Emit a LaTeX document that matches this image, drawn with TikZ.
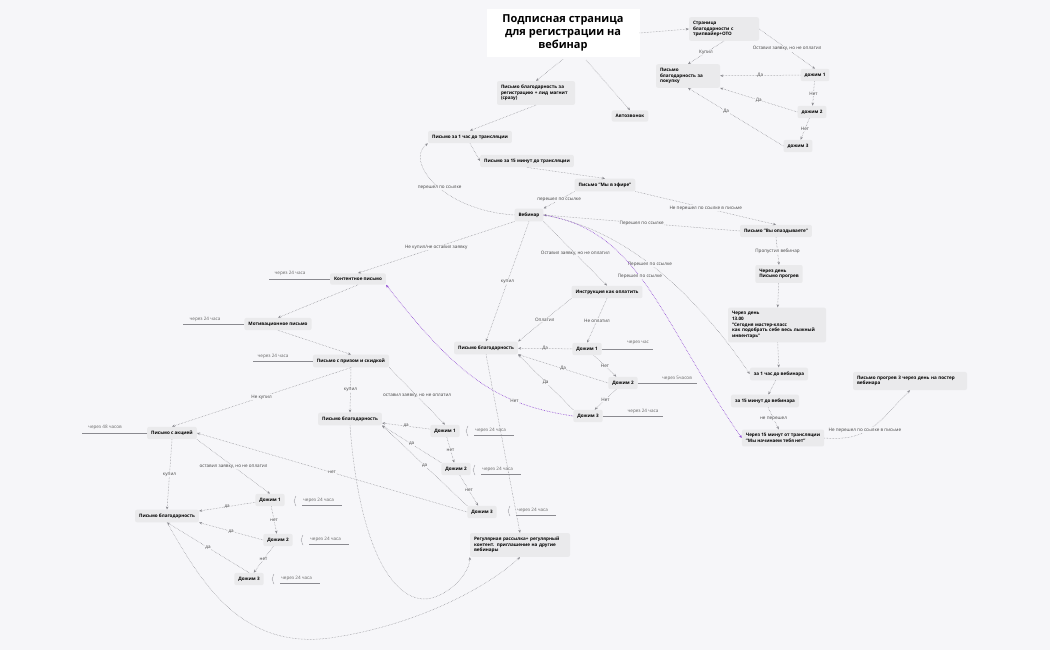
\documentclass[tikz,border=0pt]{standalone}
\usepackage{fontspec}
\setmainfont{Open Sans}
\usetikzlibrary{arrows.meta,decorations.pathreplacing}
\definecolor{bg}{HTML}{F6F6F9}
\definecolor{nf}{HTML}{EAEAEC}
\definecolor{ln}{HTML}{8A8A90}
\definecolor{pu}{HTML}{8A3FD1}
\begin{document}
\begin{tikzpicture}[x=1pt,y=-1pt,
 n/.style={fill=nf,rounded corners=2pt,font=\fontsize{4.6}{5.6}\selectfont\bfseries,inner xsep=4pt,inner ysep=4pt,align=left},
 e/.style={draw=ln,densely dotted,line width=0.5pt,-{Stealth[length=3pt,width=2.5pt]}},
 p/.style={draw=pu,densely dotted,line width=0.6pt,-{Stealth[length=3pt,width=2.5pt]}},
 l/.style={font=\fontsize{4.6}{5.6}\selectfont,fill=bg,inner sep=0.5pt,text=black!75},
 t/.style={font=\fontsize{4.6}{5.6}\selectfont,text=black!60,inner sep=1pt}]
\fill[bg] (0,0) rectangle (1050,650);
\useasboundingbox (0,0) rectangle (1050,650);
% nodes
\node[fill=white,minimum width=153pt,minimum height=48pt,align=center,font=\fontsize{11}{13}\selectfont\bfseries] (title) at (563,33) {Подписная страница\\для регистрации на\\вебинар};
\node[n,text width=62pt] (oto) at (724,29) {Страница\\благодарности с\\трипвайер+OTO};
\node[n,text width=56pt] (tbuy) at (688,76) {Письмо\\благодарность за\\покупку};
\node[n] (a1) at (815,75) {дожим 1};
\node[n] (a2) at (812,112) {дожим 2};
\node[n] (a3) at (798,146) {дожим 3};
\node[n,text width=70pt] (lm) at (536,93) {Письмо благодарность за регистрацию + лид магнит (сразу)};
\node[n] (auto) at (630,116) {Автозвонок};
\node[n] (h1) at (470,137) {Письмо за 1 час до трансляции};
\node[n] (m15) at (527,161) {Письмо за 15 минут до трансляции};
\node[n] (efir) at (605,185) {Письмо "Мы в эфире"};
\node[n] (web) at (529,215) {Вебинар};
\node[n] (late) at (776,231) {Письмо "Вы опаздываете"};
\node[n] (nd) at (779,274) {Через день\\Письмо прогрев};
\node[n,text width=90pt] (mk) at (777,325) {Через день\\13.00\\"Сегодня мастер-класс\\ как подобрать себе весь лыжный инвентарь"};
\node[n] (h1w) at (779,374) {за 1 час до вебинара};
\node[n] (m15w) at (765,401) {за 15 минут до вебинара};
\node[n] (nh) at (783,438) {Через 15 минут от трансляции\\"Мы начинаем тебя нет"};
\node[n,text width=106pt] (p3) at (910,381) {Письмо прогрев 3 через день на постер вебинара};
\node[n] (instr) at (607,292) {Инструкция как оплатить};
\node[n] (tb) at (486,348) {Письмо благодарность};
\node[n] (d1) at (587,349) {Дожим 1};
\node[n] (d2) at (623,383) {Дожим 2};
\node[n] (d3) at (588,416) {Дожим 3};
\node[n] (kont) at (358,279) {Контентное письмо};
\node[n] (mot) at (278,324) {Мотивационное письмо};
\node[n] (bon) at (351,361) {Письмо с призом и скидкой};
\node[n] (tb2) at (350,419) {Письмо благодарность};
\node[n] (e1) at (445,431) {Дожим 1};
\node[n] (e2) at (456,469) {Дожим 2};
\node[n] (e3) at (482,512) {Дожим 3};
\node[n] (akc) at (172,433) {Письмо с акцией};
\node[n] (tb3) at (167,516) {Письмо благодарность};
\node[n] (f1) at (270,500) {Дожим 1};
\node[n] (f2) at (278,540) {Дожим 2};
\node[n] (f3) at (249,579) {Дожим 3};
\node[n,text width=92pt] (reg) at (520,545) {Регулярная рассылка+ регулярный контент. приглашение на другие вебинары};
% timing lines
\coordinate (c1) at (653,349); \draw[ln,line width=0.6pt] (d1.east) -- (c1); \node[t] (c1l) at (638,343) {через час};
\coordinate (c2) at (697,383); \draw[ln,line width=0.6pt] (d2.east) -- (c2); \node[t] (c2l) at (677,378) {через 5часов};
\coordinate (c3) at (663,416); \draw[ln,line width=0.6pt] (d3.east) -- (c3); \node[t] (c3l) at (643,411) {через 24 часа};
\coordinate (k1) at (269,279); \draw[ln,line width=0.6pt] (kont.west) -- (k1); \node[t] (k1l) at (290,273) {через 24 часа};
\coordinate (k2) at (183,324); \draw[ln,line width=0.6pt] (mot.west) -- (k2); \node[t] (k2l) at (205,319) {через  24 часа};
\coordinate (k3) at (253,361); \draw[ln,line width=0.6pt] (bon.west) -- (k3); \node[t] (k3l) at (273,356) {через 24 часа};
\coordinate (k4) at (82,433); \draw[ln,line width=0.6pt] (akc.west) -- (k4); \node[t] (k4l) at (105,427) {через  48 часов};
\foreach \nn/\x/\y in {e1/474/431,e2/481/470,e3/516/511,f1/302/501,f2/309/540,f3/280/579}{
  \draw[ln,line width=0.4pt,decorate,decoration={brace,amplitude=2pt}] (\x-6,\y+5) -- (\x-6,\y-5);
  \draw[ln,line width=0.6pt] (\x,\y+4) -- (\x+40,\y+4);
  \node[t,anchor=west] at (\x,\y-1) {через 24 часа};}
% edges top
\draw[e] (title.east) -- (oto.west);
\draw[e] (title.south) ++(0,2) -- (lm.north);
\draw[e] (586,60) -- (auto.north);
\draw[e] (lm.south) -- (h1.north);
\draw[e] (oto.south) -- node[l]{Купил} (tbuy.north);
\draw[e] (oto.east) -- node[l]{Оставил заявку, но не оплатил} (a1.north);
\draw[e] (a1) -- node[l]{Да} (tbuy);
\draw[e] (a2.west) -- node[l]{Да} (tbuy.south east);
\draw[e] (a3.west) -- node[l,pos=0.6]{Да} (tbuy.south);
\draw[e] (a1) -- node[l]{Нет} (a2);
\draw[e] (a2) -- node[l]{Нет} (a3);
\draw[e] (h1.south) -- (m15.west);
\draw[e] (m15.south) -- (efir.north);
\draw[e] (efir.south west) -- node[l]{перешел по ссылке} (web.north east);
\draw[e] (efir.south east) -- node[l]{Не перешел по ссылке  в письме} (late.north);
\draw[e] (late.west) -- node[l]{Перешел по ссылке} (web.east);
\draw[e] (web.west) .. controls (440,210) and (405,160) .. node[l,pos=0.45]{перешел по ссылке} (h1.south west);
\draw[e] (late.south) -- node[l]{Пропустил вебинар} (nd.north);
\draw[e] (nd) -- (mk);
\draw[e] (mk) -- (h1w);
\draw[e] (h1w) -- (m15w);
\draw[e] (m15w) -- node[l]{не перешел} (nh);
\draw[e] (nh.east) .. controls (870,442) and (880,420) .. (p3.south);
\node[l,anchor=west] (nhl) at (828,430) {Не перешел по ссылке  в письме};
\draw[e] (web.east) .. controls (630,230) and (700,300) .. node[l,pos=0.45]{Перешел по ссылке} (h1w.west);
\draw[p] (web.east) .. controls (640,230) and (660,320) .. node[l,pos=0.45]{Перешел по ссылке} (nh.west);
% webinar branches
\draw[e] (web.south west) -- node[l]{Не купил/не оставил заявку} (kont.north);
\draw[e] (web.south) -- node[l]{купил} (tb.north);
\draw[e] (web.south east) -- node[l]{Оставил заявку, но не оплатил} (instr.north);
\draw[e] (instr.south west) -- node[l]{Оплатил} (tb.north east);
\draw[e] (instr.south) -- node[l]{Не оплатил} (d1.north);
\draw[e] (d1) -- node[l]{Да} (tb);
\draw[e] (d2.west) -- node[l]{Да} (tb.south east);
\draw[e] (d3.north west) -- node[l]{Да} (tb.south east);
\draw[e] (d1) -- node[l]{Нет} (d2);
\draw[e] (d2) -- node[l]{Нет} (d3);
\draw[p] (d3.west) .. controls (500,405) and (460,380) .. node[l,pos=0.3]{Нет} (kont.south east);
% chain
\draw[e] (kont.south) -- (mot.north);
\draw[e] (mot.south) -- (bon.north);
\draw[e] (bon.south) -- node[l]{Не купил} (akc.north);
\draw[e] (bon.south) -- node[l]{купил} (tb2.north);
\draw[e] (bon.south east) -- node[l]{оставил заявку, но не оплатил} (e1.north);
\draw[e] (e1) -- node[l]{да} (tb2);
\draw[e] (e2.north west) -- node[l]{да} (tb2.south east);
\draw[e] (e3.north west) -- node[l]{да} (tb2.south east);
\draw[e] (e1) -- node[l]{нет} (e2);
\draw[e] (e2) -- node[l]{нет} (e3);
\draw[e] (e3.west) -- node[l]{нет} (akc.east);
\draw[e] (akc.south) -- node[l]{купил} (tb3.north);
\draw[e] (akc.south east) -- node[l]{оставил заявку, но не оплатил} (f1.north);
\draw[e] (f1) -- node[l]{да} (tb3);
\draw[e] (f2.west) -- node[l]{да} (tb3.south east);
\draw[e] (f3.north) -- node[l]{да} (tb3.south);
\draw[e] (f1) -- node[l]{нет} (f2);
\draw[e] (f2) -- node[l]{нет} (f3);
% to regular
\draw[e] (tb.south) -- (reg.north);
\draw[e] (tb2.south) .. controls (360,560) and (400,610) .. (435,597) .. controls (455,590) and (470,570) .. (reg.south west);
\draw[e] (tb3.south) .. controls (200,580) and (240,650) .. (330,638) .. controls (420,625) and (490,585) .. (reg.south);
\end{tikzpicture}
\end{document}
